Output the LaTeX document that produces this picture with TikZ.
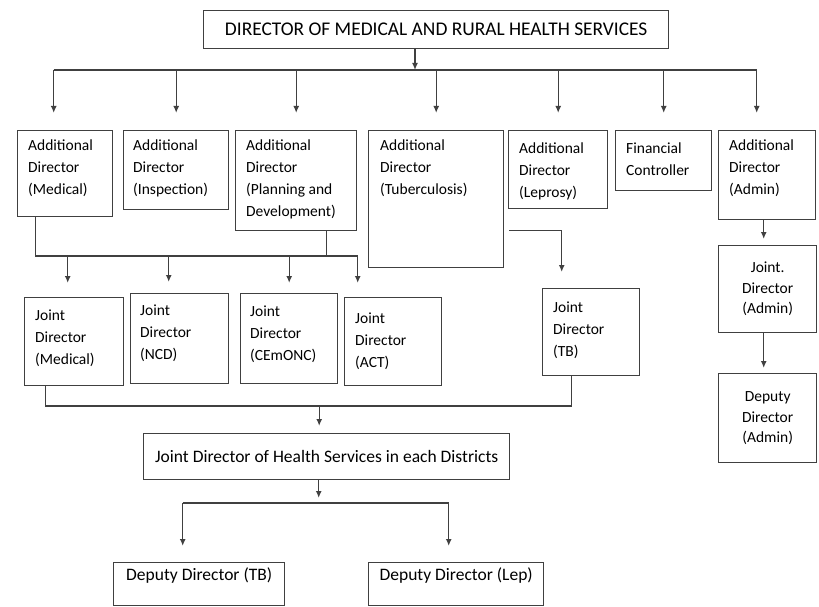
\documentclass[tikz,border=0pt]{standalone}
\usepackage{fontspec}
\setmainfont{Carlito}
\usetikzlibrary{positioning, calc, arrows.meta}

\begin{document}
\begin{tikzpicture}[x=1pt, y=-1pt]
    % Styles
    \tikzset{
        box/.style={rectangle, draw=black!75, line width=1.4pt, anchor=north west, inner sep=0pt},
        lbl/.style={anchor=north west, align=left, inner xsep=11pt, inner ysep=10pt, font=\fontsize{15.5}{22}\selectfont},
        lbl_top/.style={anchor=north, inner sep=5pt, font=\fontsize{17.5}{21}\selectfont},
        link/.style={draw=black!75, line width=1.4pt},
        arr/.style={link, -{Latex[length=7pt, width=6pt]}}
    }
    \useasboundingbox (0,0) rectangle (819,607);

    % --- Nodes ---

    % Top: Director
    \node[box, minimum width=465pt, minimum height=38pt, font=\fontsize{19.4}{23}\selectfont] (dir) at (203,10) {DIRECTOR OF MEDICAL AND RURAL HEALTH SERVICES};

    % Additional Directors
    \node[box, minimum width=95pt, minimum height=86pt, label={[lbl]north west:Additional\\Director\\(Medical)}] (add_med) at (17,130) {};
    \node[box, minimum width=105pt, minimum height=79pt, label={[lbl, inner xsep=10pt]north west:Additional\\Director\\(Inspection)}] (add_insp) at (123,130) {};
    \node[box, minimum width=121pt, minimum height=100pt, label={[lbl]north west:Additional\\Director\\(Planning and\\Development)}] (add_plan) at (235,130) {};
    \node[box, minimum width=135pt, minimum height=137pt, label={[lbl, inner xsep=12pt]north west:Additional\\Director\\(Tuberculosis)}] (add_tb) at (368,130) {};
    \node[box, minimum width=99pt, minimum height=78pt, label={[lbl, inner ysep=13pt]north west:Additional\\Director\\(Leprosy)}] (add_lep) at (508,130) {};
    \node[box, minimum width=96pt, minimum height=60pt, label={[lbl, inner ysep=13pt]north west:Financial\\Controller}] (fin) at (615,130) {};
    \node[box, minimum width=97pt, minimum height=89pt, label={[lbl]north west:Additional\\Director\\(Admin)}] (add_admin) at (718,130) {};

    % Joint Directors
    \node[box, minimum width=99pt, minimum height=88pt, label={[lbl, inner ysep=13pt]north west:Joint\\Director\\(Medical)}] (jd_med) at (24,297) {};
    \node[box, minimum width=98pt, minimum height=90pt, label={[lbl, inner ysep=12pt, inner xsep=10pt]north west:Joint\\Director\\(NCD)}] (jd_ncd) at (130,293) {};
    \node[box, minimum width=97pt, minimum height=90pt, label={[lbl, inner ysep=13pt, inner xsep=10pt]north west:Joint\\Director\\(CEmONC)}] (jd_cem) at (240,293) {};
    \node[box, minimum width=97pt, minimum height=88pt, label={[lbl, inner ysep=16pt]north west:Joint\\Director\\(ACT)}] (jd_act) at (344,297) {};
    \node[box, minimum width=97pt, minimum height=87pt, label={[lbl, inner ysep=14pt]north west:Joint\\Director\\(TB)}] (jd_tb) at (542,288) {};

    % Admin column
    \node[box, minimum width=98pt, minimum height=87pt, align=center, font=\fontsize{15.5}{20.5}\selectfont] (jd_admin) at (718,245) {Joint.\\Director\\(Admin)};
    \node[box, minimum width=98pt, minimum height=89pt, align=center, font=\fontsize{15.5}{20.5}\selectfont] (dd_admin) at (718,373) {Deputy\\Director\\(Admin)};

    % District level
    \node[box, minimum width=366pt, minimum height=46pt, font=\fontsize{17.5}{21}\selectfont] (jd_hs) at (143,433) {Joint Director of Health Services in each Districts};

    % Deputy Directors
    \node[box, minimum width=171pt, minimum height=43pt, label={[lbl_top]north:Deputy Director (TB)}] (dd_tb) at (113,562) {};
    \node[box, minimum width=175pt, minimum height=43pt, label={[lbl_top]north:Deputy Director (Lep)}] (dd_lep) at (368,562) {};

    % --- Connections ---

    % Director to Additional Directors
    \coordinate (bus1) at (415,70);
    \coordinate (t_med) at ($(add_med.north)+(-11.5,0)$);
    \coordinate (t_admin) at ($(add_admin.north)+(-10.5,0)$);
    \draw[arr] (dir.south -| bus1) -- (bus1);
    \draw[link] (bus1 -| t_med) -- (bus1 -| t_admin);
    \draw[arr, shorten >=17pt] (bus1 -| t_med) -- (t_med);
    \draw[arr, shorten >=17pt] (bus1 -| add_insp.north) -- (add_insp.north);
    \draw[arr, shorten >=17pt] (bus1 -| add_plan.north) -- (add_plan.north);
    \draw[arr, shorten >=17pt] (bus1 -| add_tb.north) -- (add_tb.north);
    \draw[arr, shorten >=17pt] (bus1 -| add_lep.north) -- (add_lep.north);
    \draw[arr, shorten >=17pt] (bus1 -| fin.north) -- (fin.north);
    \draw[arr, shorten >=17pt] (bus1 -| t_admin) -- (t_admin);

    % Medical and Planning to Joint Directors
    \coordinate (bus2) at (0,256);
    \coordinate (b_med) at ($(add_med.south)+(-29.5,0)$);
    \coordinate (b_plan) at ($(add_plan.south)+(30.5,0)$);
    \coordinate (t_jdmed) at ($(jd_med.north)+(-6.5,0)$);
    \coordinate (t_jdncd) at ($(jd_ncd.north)+(-11,0)$);
    \coordinate (t_jdact) at ($(jd_act.north)+(-35.5,0)$);
    \draw[arr, shorten >=14pt] (b_med) -- (b_med |- bus2) -- (bus2 -| t_jdact) -- (t_jdact);
    \draw[link] (b_plan) -- (b_plan |- bus2);
    \draw[arr, shorten >=14pt] (bus2 -| t_jdmed) -- (t_jdmed);
    \draw[arr, shorten >=11pt] (bus2 -| t_jdncd) -- (t_jdncd);
    \draw[arr, shorten >=10pt] (bus2 -| jd_cem.north) -- (jd_cem.north);

    % Tuberculosis to Joint Director (TB)
    \coordinate (s_tb) at ($(add_tb.south east)+(5,-38)$);
    \coordinate (t_jdtb) at ($(jd_tb.north)+(-29.5,0)$);
    \draw[arr, shorten >=16pt] (s_tb) -| (t_jdtb);

    % Joint Directors to district level
    \coordinate (bus3) at (0,406);
    \coordinate (b_jdmed) at ($(jd_med.south)+(-28.5,0)$);
    \coordinate (b_jdtb) at ($(jd_tb.south)+(-19.5,0)$);
    \coordinate (t_hs) at ($(jd_hs.north)+(-7.5,0)$);
    \draw[link] (b_jdmed) -- (b_jdmed |- bus3) -- (bus3 -| b_jdtb) -- (b_jdtb);
    \draw[arr, shorten >=7pt] (bus3 -| t_hs) -- (t_hs);

    % District level to Deputy Directors
    \coordinate (bus4) at (0,503);
    \coordinate (b_hs) at ($(jd_hs.south)+(-8,0)$);
    \coordinate (t_ddtb) at ($(dd_tb.north)+(-16.5,0)$);
    \coordinate (t_ddlep) at ($(dd_lep.north)+(-7.5,0)$);
    \draw[arr, shorten >=5pt] (b_hs) -- (b_hs |- bus4);
    \draw[link] (bus4 -| t_ddtb) -- (bus4 -| t_ddlep);
    \draw[arr, shorten >=16pt] (bus4 -| t_ddtb) -- (t_ddtb);
    \draw[arr, shorten >=16pt] (bus4 -| t_ddlep) -- (t_ddlep);

    % Admin chain
    \coordinate (t_jdadm) at ($(jd_admin.north)+(-4,0)$);
    \coordinate (t_ddadm) at ($(dd_admin.north)+(-4,0)$);
    \draw[arr, shorten >=6pt] (add_admin.south -| t_jdadm) -- (t_jdadm);
    \draw[arr, shorten >=5pt] (jd_admin.south -| t_ddadm) -- (t_ddadm);

\end{tikzpicture}
\end{document}
